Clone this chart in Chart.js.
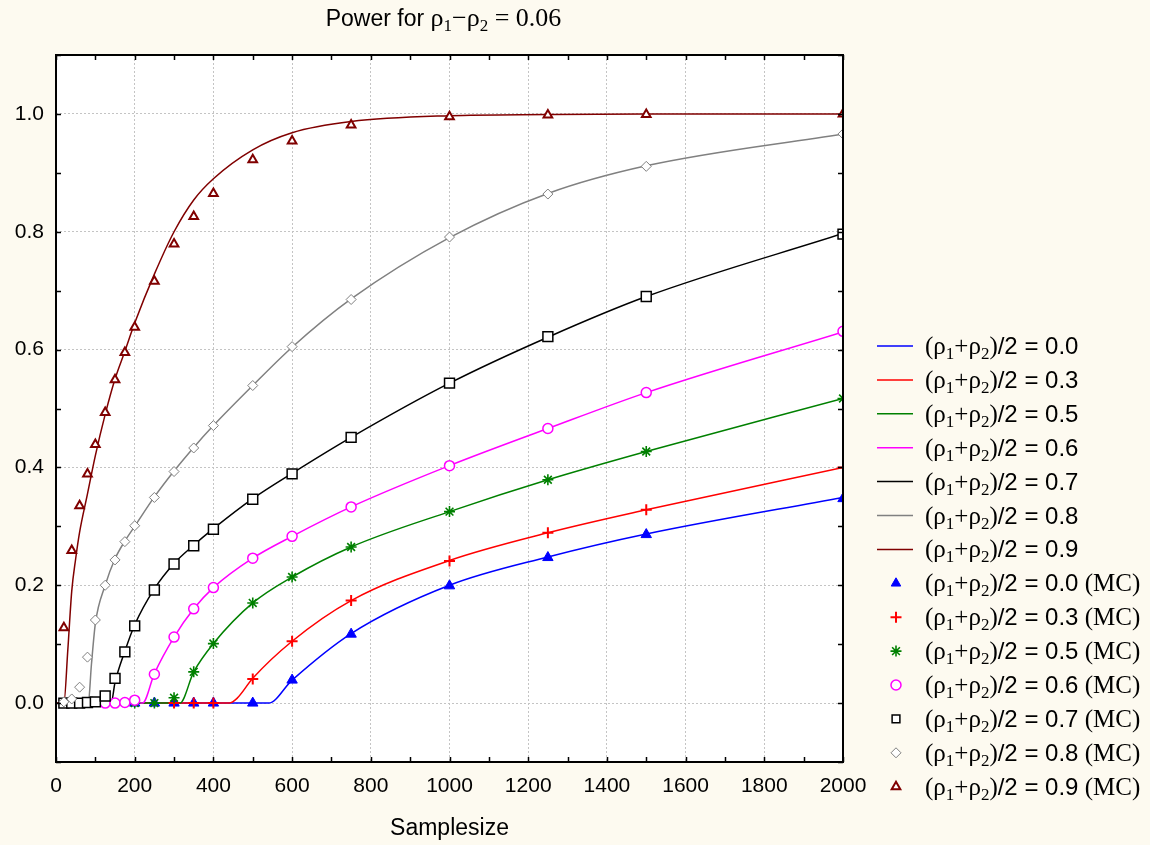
<!DOCTYPE html>
<html>
<head>
<meta charset="utf-8">
<title>Power for rho1 - rho2 = 0.06</title>
<script src="https://cdn.jsdelivr.net/npm/chart.js@4/dist/chart.umd.min.js"></script>
<style>
  html, body { margin: 0; padding: 0; background: #fdfaf0; }
  #wrap { width: 1150px; height: 845px; }
</style>
</head>
<body>
<div id="wrap"><canvas id="powerChart" width="1150" height="845"></canvas></div>
<script>
const SANS = '"Liberation Sans", Arial, sans-serif';
const SERIF = '"Liberation Serif", "Times New Roman", serif';

// ==========================
// DATA
// ==========================
const levels = ['0.0', '0.3', '0.5', '0.6', '0.7', '0.8', '0.9'];
const lineColors = ['#0000ff', '#ff0000', '#008000', '#ff00ff', '#000000', '#808080', '#800000'];

// theoretical power curves (samplesize, power)
const c00x = [0, 540, 600, 750, 1000, 1250, 1500, 2000];
const c00y = [0, 0, 0.039, 0.118, 0.2, 0.248, 0.287, 0.349];
const c03x = [0, 440, 460, 500, 600, 750, 1000, 1250, 1500, 2000];
const c03y = [0, 0, 0.008, 0.042, 0.105, 0.174, 0.242, 0.289, 0.328, 0.40];
const c05x = [0, 315, 350, 400, 500, 600, 750, 1000, 1250, 1500, 2000];
const c05y = [0, 0, 0.053, 0.101, 0.17, 0.214, 0.265, 0.325, 0.379, 0.427, 0.517];
const c06x = [0, 220, 250, 300, 350, 400, 500, 600, 750, 1000, 1250, 1500, 2000];
const c06y = [0, 0, 0.05, 0.112, 0.16, 0.196, 0.246, 0.283, 0.333, 0.403, 0.466, 0.527, 0.63];
const c07x = [0, 140, 150, 175, 200, 250, 300, 350, 400, 500, 600, 750, 1000, 1250, 1500, 2000];
const c07y = [0, 0, 0.035, 0.088, 0.133, 0.194, 0.237, 0.268, 0.296, 0.347, 0.39, 0.451, 0.543, 0.621, 0.69, 0.797];
const c08x = [0, 82, 90, 100, 125, 150, 175, 200, 250, 300, 350, 400, 500, 600, 750, 1000, 1250, 1500, 2000];
const c08y = [0, 0, 0.065, 0.135, 0.2, 0.245, 0.275, 0.3, 0.35, 0.394, 0.434, 0.471, 0.539, 0.604, 0.686, 0.79, 0.865, 0.912, 0.966];
const c09x = [0, 20, 30, 40, 50, 60, 80, 100, 125, 150, 175, 200, 250, 300, 350, 400, 500, 600, 750, 1000, 1250, 1500, 2000];
const c09y = [0, 0, 0.09, 0.19, 0.245, 0.29, 0.355, 0.42, 0.49, 0.55, 0.597, 0.645, 0.728, 0.8, 0.854, 0.89, 0.939, 0.968, 0.987, 0.997, 0.999, 1.0, 1.0];

// Monte Carlo estimates
const mcN   = [20, 40, 60, 80, 100, 125, 150, 175, 200, 250, 300, 350, 400, 500, 600, 750, 1000, 1250, 1500, 2000];
const mc00 = [null, null, null, null, null, null, null, null, 0, 0, 0, 0, 0, 0, 0.039, 0.117, 0.199, 0.247, 0.286, 0.347];
const mc03 = [null, null, null, null, null, null, null, null, null, null, 0, 0, 0, 0.041, 0.105, 0.174, 0.241, 0.289, 0.328, 0.40];
const mc05 = [null, null, null, null, null, null, null, null, 0, 0, 0.009, 0.053, 0.101, 0.17, 0.214, 0.265, 0.325, 0.379, 0.427, 0.517];
const mc06 = [null, null, null, null, null, 0, 0, 0.001, 0.005, 0.049, 0.112, 0.16, 0.196, 0.246, 0.283, 0.333, 0.403, 0.466, 0.527, 0.631];
const mc07 = [0, 0, 0, 0.001, 0.002, 0.012, 0.042, 0.087, 0.131, 0.192, 0.236, 0.267, 0.295, 0.346, 0.389, 0.451, 0.543, 0.622, 0.69, 0.796];
const mc08 = [0.002, 0.007, 0.027, 0.078, 0.141, 0.2, 0.243, 0.274, 0.301, 0.349, 0.393, 0.433, 0.471, 0.539, 0.605, 0.685, 0.791, 0.864, 0.911, 0.966];
const mc09 = [0.128, 0.259, 0.335, 0.389, 0.439, 0.493, 0.549, 0.595, 0.638, 0.716, 0.779, 0.826, 0.865, 0.922, 0.954, 0.981, 0.995, 0.998, 0.999, 1.0];

const curvesX = [c00x, c03x, c05x, c06x, c07x, c08x, c09x];
const curvesY = [c00y, c03y, c05y, c06y, c07y, c08y, c09y];
const mcSeries = [mc00, mc03, mc05, mc06, mc07, mc08, mc09];

// marker look for each MC series
const mcStyles = [
  { pointStyle: 'triangle', radius: 6,   width: 1,   fill: '#0000ff' },
  { pointStyle: 'cross',    radius: 5.5, width: 2,   fill: '#ff0000' },
  { pointStyle: 'star',     radius: 5.5, width: 1.6, fill: '#008000' },
  { pointStyle: 'circle',   radius: 5,   width: 1.5, fill: '#ffffff' },
  { pointStyle: 'rect',     radius: 7,   width: 1.5, fill: '#ffffff' },
  { pointStyle: 'rectRot',  radius: 5,   width: 1,   fill: '#ffffff' },
  { pointStyle: 'triangle', radius: 5,   width: 2,   fill: '#ffffff' }
];

// ==========================
// DATASETS
// ==========================
const datasets = [];
levels.forEach((lv, i) => {
  datasets.push({
    label: '(ρ₁+ρ₂)/2 = ' + lv,
    data: curvesX[i].map((x, k) => ({ x, y: curvesY[i][k] })),
    showLine: true,
    borderColor: lineColors[i],
    backgroundColor: lineColors[i],
    borderWidth: 1.5,
    pointRadius: 0,
    cubicInterpolationMode: 'monotone',
    order: 20 - i,
    clip: 0
  });
});
levels.forEach((lv, i) => {
  const st = mcStyles[i];
  datasets.push({
    label: '(ρ₁+ρ₂)/2 = ' + lv + ' (MC)',
    data: mcN.map((n, k) => ({ x: n, y: mcSeries[i][k] })).filter(p => p.y !== null),
    showLine: false,
    pointStyle: st.pointStyle,
    pointRadius: st.radius,
    pointBorderWidth: st.width,
    pointBorderColor: lineColors[i],
    pointBackgroundColor: st.fill,
    borderColor: lineColors[i],
    backgroundColor: st.fill,
    order: 13 - i,
    clip: 0
  });
});

// ==========================
// DRAW HELPERS
// ==========================
function drawRich(ctx, parts, x, y, align){
  let w = 0;
  parts.forEach(p => { ctx.font = p.font; w += ctx.measureText(p.t).width; });
  let cx = align === 'center' ? x - w / 2 : x;
  ctx.textAlign = 'left';
  ctx.textBaseline = 'alphabetic';
  parts.forEach(p => {
    ctx.font = p.font;
    ctx.fillText(p.t, cx, y + (p.dy || 0));
    cx += ctx.measureText(p.t).width;
  });
}

function labelParts(level, mc){
  const big = '25px ' + SERIF, sub = '17px ' + SERIF, sans = '24px ' + SANS;
  const parts = [
    { t: '(ρ', font: big }, { t: '1', font: sub, dy: 5 },
    { t: '+ρ', font: big }, { t: '2', font: sub, dy: 5 },
    { t: ')', font: big }, { t: '/2 = ' + level, font: sans }
  ];
  if(mc) parts.push({ t: ' (MC)', font: big });
  return parts;
}

const isMajor = v => Math.round(v * 10) % 2 === 0;
const inLabelRange = v => v > -0.05 && v < 1.05;

const decorPlugin = {
  id: 'decor',
  beforeDraw(chart){
    const { ctx, chartArea: a } = chart;
    ctx.save();
    ctx.fillStyle = '#fdfaf0';
    ctx.fillRect(0, 0, chart.width, chart.height);
    ctx.fillStyle = '#ffffff';
    ctx.fillRect(a.left, a.top, a.right - a.left, a.bottom - a.top);
    ctx.restore();
  },
  afterDraw(chart){
    const { ctx, chartArea: a, scales } = chart;
    const xs = scales.x, ys = scales.y;
    ctx.save();

    // inward tick marks on all four sides
    ctx.strokeStyle = '#000';
    ctx.lineWidth = 1.5;
    ctx.beginPath();
    xs.ticks.forEach(t => {
      const px = Math.round(xs.getPixelForValue(t.value)) + 0.5;
      ctx.moveTo(px, a.bottom); ctx.lineTo(px, a.bottom - 5);
      ctx.moveTo(px, a.top); ctx.lineTo(px, a.top + 5);
    });
    ys.ticks.forEach(t => {
      const py = Math.round(ys.getPixelForValue(t.value)) + 0.5;
      ctx.moveTo(a.left, py); ctx.lineTo(a.left + 5, py);
      ctx.moveTo(a.right, py); ctx.lineTo(a.right - 5, py);
    });
    ctx.stroke();

    // frame
    ctx.lineWidth = 2;
    ctx.strokeRect(a.left, a.top, a.right - a.left, a.bottom - a.top);

    // title
    ctx.fillStyle = '#000';
    const tb = '26px ' + SERIF, ts = '17px ' + SERIF;
    drawRich(ctx, [
      { t: 'Power for ', font: '23px ' + SANS },
      { t: 'ρ', font: tb }, { t: '1', font: ts, dy: 5 },
      { t: '−ρ', font: tb }, { t: '2', font: ts, dy: 5 },
      { t: ' = 0.06', font: tb }
    ], (a.left + a.right) / 2 - 6, 26, 'center');

    // legend
    const rowStep = 33.9;
    chart.data.datasets.forEach((ds, k) => {
      const yRow = 346 + k * rowStep;
      const lv = levels[k % levels.length];
      const mc = k >= levels.length;
      if(!mc){
        ctx.strokeStyle = ds.borderColor;
        ctx.lineWidth = 1.5;
        ctx.beginPath();
        ctx.moveTo(877, yRow); ctx.lineTo(913, yRow);
        ctx.stroke();
      } else {
        const st = mcStyles[k - levels.length];
        ctx.strokeStyle = ds.pointBorderColor;
        ctx.fillStyle = st.fill;
        ctx.lineWidth = st.width;
        Chart.helpers.drawPoint(ctx, {
          pointStyle: st.pointStyle, rotation: 0,
          radius: Math.min(st.radius, 5.5), borderWidth: st.width
        }, 896, yRow);
      }
      ctx.fillStyle = '#000';
      drawRich(ctx, labelParts(lv, mc), 925, yRow + 8, 'left');
    });
    ctx.restore();
  }
};

// ==========================
// CHART
// ==========================
new Chart(document.getElementById('powerChart'), {
  type: 'scatter',
  data: { datasets },
  options: {
    responsive: false,
    animation: false,
    events: [],
    layout: { padding: { top: 55, right: 307, bottom: 0, left: 0 } },
    plugins: { legend: { display: false }, tooltip: { enabled: false }, title: { display: false } },
    scales: {
      x: {
        type: 'linear',
        min: 0, max: 2000,
        afterFit: s => { s.height = 83; },
        ticks: {
          stepSize: 100,
          autoSkip: false,
          maxRotation: 0,
          padding: 12,
          color: '#000',
          font: { family: SANS, size: 21 },
          callback: v => (v % 200 === 0 ? String(v) : '')
        },
        grid: {
          drawTicks: false,
          color: ctx => (ctx.tick && ctx.tick.value % 200 === 0 ? '#c4c4c4' : 'transparent'),
          lineWidth: 1
        },
        border: { display: false, dash: [2, 2] },
        title: {
          display: true,
          text: 'Samplesize',
          color: '#000',
          font: { family: SANS, size: 23 },
          padding: { top: 0, bottom: 3 }
        }
      },
      y: {
        min: -0.1, max: 1.1,
        afterFit: s => { s.width = 56; },
        ticks: {
          stepSize: 0.1,
          autoSkip: false,
          padding: 12,
          color: '#000',
          font: { family: SANS, size: 21 },
          callback: v => (isMajor(v) && inLabelRange(v) ? v.toFixed(1) : '')
        },
        grid: {
          drawTicks: false,
          color: ctx => (ctx.tick && isMajor(ctx.tick.value) && inLabelRange(ctx.tick.value) ? '#c4c4c4' : 'transparent'),
          lineWidth: 1
        },
        border: { display: false, dash: [2, 2] }
      }
    }
  },
  plugins: [decorPlugin]
});
</script>
</body>
</html>
